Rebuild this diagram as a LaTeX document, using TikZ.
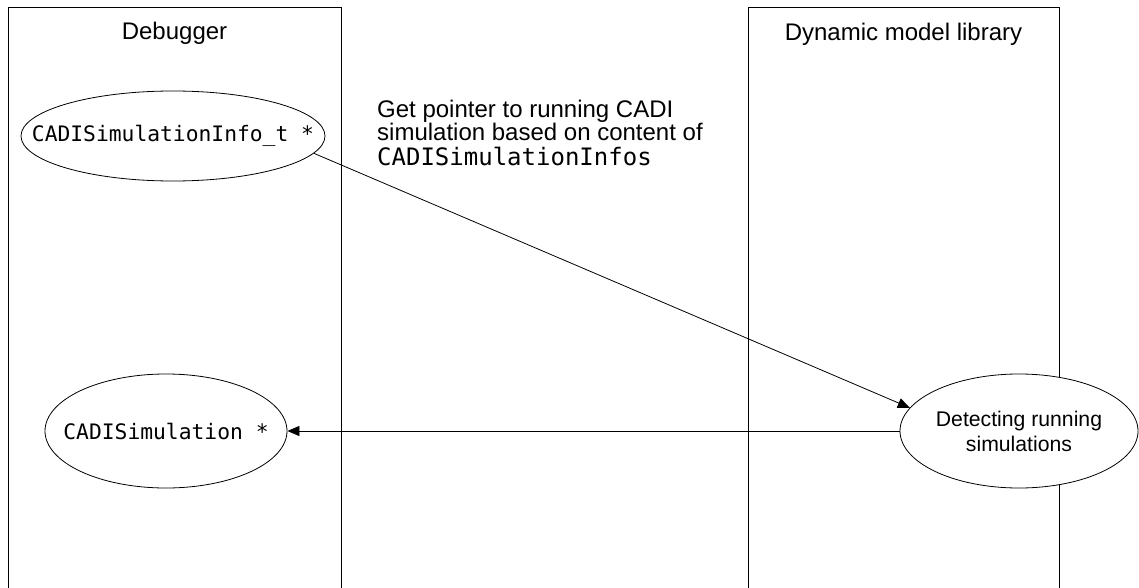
\documentclass[tikz,border=0pt]{standalone}
\usepackage{fontspec}
\setmainfont{Liberation Sans}
\newfontfamily\monof{DejaVu Sans Mono}
\usetikzlibrary{shapes.geometric,arrows.meta}
\tikzset{
  lane/.style={draw=black,line width=0.8pt},
  oval/.style={ellipse,draw=black,fill=white,line width=0.8pt,inner sep=0pt,align=center},
  conn/.style={draw=black,line width=0.8pt,-{Triangle[length=12pt,width=10pt]}},
  lanetitle/.style={font=\fontsize{24}{28}\selectfont,anchor=base,inner sep=0pt},
  monotext/.style={font=\monof\fontsize{21.3}{25}\selectfont},
}
\begin{document}
\begin{tikzpicture}[x=1pt,y=-1pt]
\useasboundingbox (0,0) rectangle (1139,588);
\clip (0,0) rectangle (1139,588);
\fill[white] (0,0) rectangle (1139,588);
% lanes
\draw[lane] (8,600) -- (8,7) -- (341,7) -- (341,600);
\draw[lane] (748,600) -- (748,7) -- (1059,7) -- (1059,600);
\node[lanetitle] (t1) at (174.5,40) {Debugger};
\node[lanetitle] (t2) at (903.5,41) {Dynamic model library};
% ellipses
\node[oval,monotext,minimum width=304pt,minimum height=90pt] (e1) at (173,136) {\makebox[0pt]{CADISimulationInfo\_t *}};
\node[oval,monotext,minimum width=242pt,minimum height=114pt] (e2) at (166,431) {\makebox[0pt]{CADISimulation *}};
\node[oval,minimum width=238pt,minimum height=114pt,font=\fontsize{21.2}{25}\selectfont] (e3) at (1019,431) {Detecting running\\simulations};
% caption
\node[anchor=north west,inner sep=0pt,align=left,font=\fontsize{24}{23.3}\selectfont] (cap) at (377,99.5) {Get pointer to running CADI\\simulation based on content of\\[1.7pt]{\monof\fontsize{24}{23.3}\selectfont CADISimulationInfos}};
% connectors
\draw[conn] (e1.-7) -- (e3.168);
\draw[conn] (e3.west) -- (e2.east);
\end{tikzpicture}
\end{document}
